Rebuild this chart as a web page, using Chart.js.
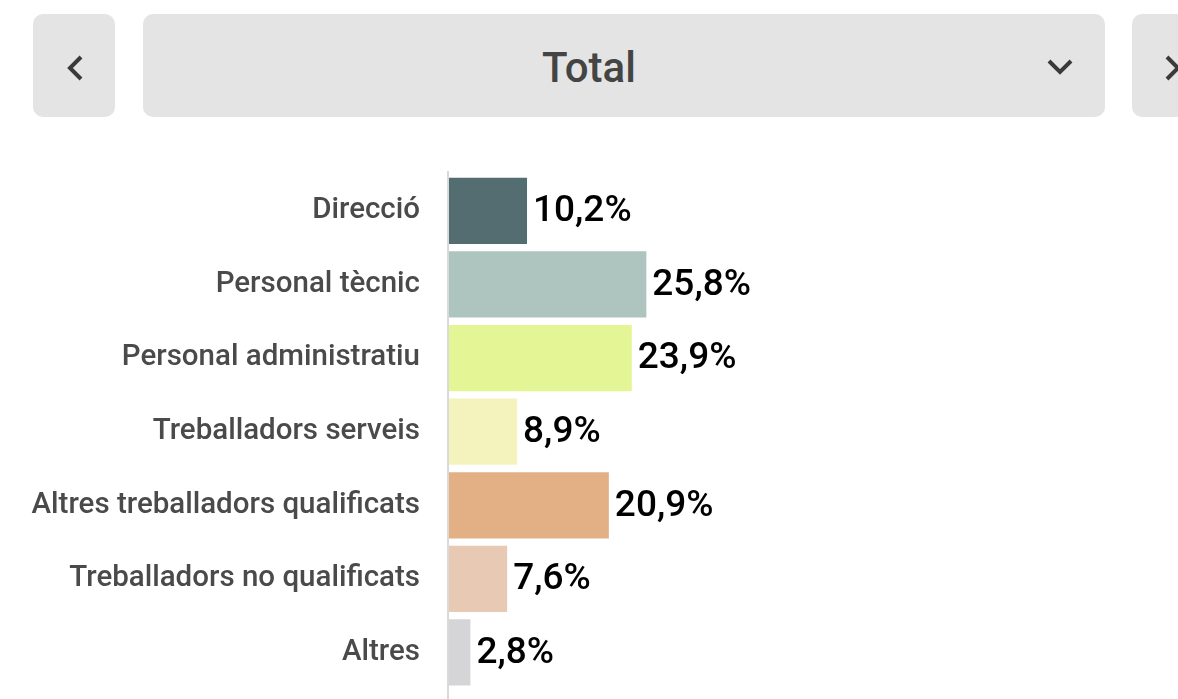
<!DOCTYPE html>
<html>
<head>
<meta charset="utf-8">
<script src="https://cdn.jsdelivr.net/npm/chart.js@4/dist/chart.umd.min.js"></script>
<style>
  html, body { margin:0; padding:0; background:#fff; width:1178px; height:699px; overflow:hidden; font-family: Roboto, "Noto Sans", sans-serif; }
  .btn { position:absolute; top:14px; height:103px; background:#e4e4e4; border-radius:10px; }
  #prev { left:33px; width:82px; }
  #sel { left:143px; width:962px; }
  #next { left:1132px; width:90px; }
  #sel span { position:absolute; left:0; right:70px; top:2px; line-height:103px; text-align:center; font-size:42px; font-weight:500; color:#444; }
  svg { position:absolute; }
  #c { position:absolute; left:0; top:140px; }
</style>
</head>
<body>
<div class="btn" id="prev"><svg width="82" height="103"><polyline points="48,43 37,54 48,65" fill="none" stroke="#3a3a3a" stroke-width="4"/></svg></div>
<div class="btn" id="sel"><span>Total</span><svg width="962" height="103" style="left:0;top:0"><polyline points="906,47 917,58 928,47" fill="none" stroke="#3a3a3a" stroke-width="4"/></svg></div>
<div class="btn" id="next"><svg width="90" height="103"><polyline points="35,43 46,54 35,65" fill="none" stroke="#3a3a3a" stroke-width="4"/></svg></div>
<canvas id="c" width="1178" height="567"></canvas>
<script>
const categories = ["Direcció", "Personal tècnic", "Personal administratiu", "Treballadors serveis", "Altres treballadors qualificats", "Treballadors no qualificats", "Altres"];
const values = [10.2, 25.8, 23.9, 8.9, 20.9, 7.6, 2.8];
const valueLabels = ["10,2%", "25,8%", "23,9%", "8,9%", "20,9%", "7,6%", "2,8%"];
const colors = ["#546d70", "#adc5be", "#e4f595", "#f5f3bd", "#e3b086", "#e8c9b3", "#d5d5d7"];

const valuePlugin = {
  id: 'valueLabels',
  afterDatasetsDraw(chart) {
    const ctx = chart.ctx;
    const meta = chart.getDatasetMeta(0);
    ctx.save();
    ctx.font = '500 37px Roboto';
    ctx.fillStyle = '#000';
    ctx.textBaseline = 'middle';
    ctx.textAlign = 'left';
    meta.data.forEach((bar, i) => {
      ctx.fillText(valueLabels[i], bar.x + 6, bar.y + 1);
    });
    ctx.restore();
  }
};
const axisLinePlugin = {
  id: 'axisLine',
  afterDraw(chart) {
    const ctx = chart.ctx;
    const x = chart.chartArea.left - 1;
    ctx.save();
    ctx.strokeStyle = '#d9d9d9';
    ctx.lineWidth = 2;
    ctx.beginPath();
    ctx.moveTo(x, chart.chartArea.top - 3);
    ctx.lineTo(x, chart.height);
    ctx.stroke();
    ctx.restore();
  }
};

new Chart(document.getElementById('c'), {
  type: 'bar',
  data: {
    labels: categories,
    datasets: [{ data: values, backgroundColor: colors, borderWidth: 0, barPercentage: 0.9, categoryPercentage: 1 }]
  },
  options: {
    indexAxis: 'y',
    responsive: false,
    maintainAspectRatio: false,
    animation: false,
    layout: { padding: { top: 34, bottom: 9, right: 10, left: 0 } },
    plugins: { legend: { display: false }, tooltip: { enabled: false } },
    scales: {
      x: { display: false, min: 0, max: 94 },
      y: {
        afterFit(scale) { scale.width = 449; },
        grid: { display: true, drawOnChartArea: false, drawTicks: true, tickLength: 29, color: 'rgba(0,0,0,0)' },
        border: { display: false },
        ticks: { color: '#4a4a4a', font: { family: 'Roboto', size: 29.5, weight: '500' }, padding: 0 }
      }
    }
  },
  plugins: [valuePlugin, axisLinePlugin]
});
</script>
</body>
</html>
